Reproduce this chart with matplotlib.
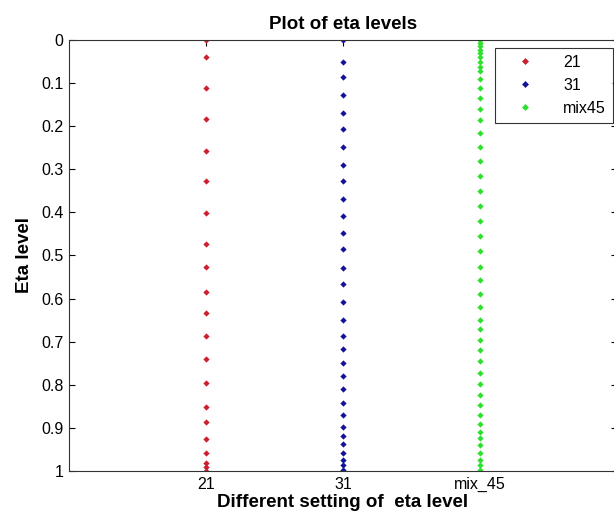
import numpy as np
import matplotlib.pyplot as plt

plt.rcParams['font.family'] = ['Liberation Sans', 'DejaVu Sans']

# eta values
eta_21 = [0, 0.039, 0.111, 0.184, 0.257, 0.327, 0.401, 0.474, 0.526, 0.584,
          0.634, 0.688, 0.741, 0.795, 0.851, 0.887, 0.925, 0.959, 0.981,
          0.990, 1.0]
eta_31 = [0, 0.050, 0.087, 0.128, 0.169, 0.207, 0.249, 0.290, 0.327, 0.369,
          0.408, 0.447, 0.485, 0.530, 0.566, 0.607, 0.650, 0.688, 0.718,
          0.749, 0.780, 0.810, 0.842, 0.870, 0.899, 0.919, 0.937, 0.958,
          0.974, 0.986, 0.998]
eta_mix45 = [0, 0.008, 0.015, 0.023, 0.031, 0.040, 0.050, 0.062, 0.073, 0.091,
             0.112, 0.135, 0.161, 0.186, 0.215, 0.248, 0.280, 0.315, 0.350,
             0.385, 0.420, 0.455, 0.489, 0.526, 0.558, 0.589, 0.619, 0.650,
             0.671, 0.696, 0.719, 0.746, 0.773, 0.798, 0.824, 0.847, 0.870,
             0.891, 0.909, 0.924, 0.940, 0.959, 0.974, 0.986, 0.998]

series = [("21", eta_21, "#cc1f2f"), ("31", eta_31, "#12129a"),
          ("mix45", eta_mix45, "#2ee02e")]
xlabels = ["21", "31", "mix_45"]

fig = plt.figure(figsize=(6.14, 5.25), dpi=100)
ax = fig.add_axes([0.1124, 0.1029, 0.8925, 0.821])

for i, (name, vals, col) in enumerate(series):
    ax.plot(np.full(len(vals), i + 1), vals, "D", color=col, markersize=3.2,
            markeredgewidth=0, linestyle="none", label=name)

ax.set_xlim(0, 4)
ax.set_ylim(1, 0)
ax.set_xticks([1, 2, 3])
ax.set_xticklabels(xlabels)
ax.set_yticks(np.round(np.arange(0, 1.01, 0.1), 1))
ax.set_yticklabels(["0"] + ["%.1f" % v for v in np.arange(0.1, 0.95, 0.1)] + ["1"])
ax.tick_params(direction="in", length=4, labelsize=11.5, top=True, right=True,
               pad=4)
for s in ax.spines.values():
    s.set_color("#333333")

ax.set_title("Plot of eta levels", fontsize=13.5, fontweight="bold", pad=8)
ax.set_xlabel("Different setting of  eta level", fontsize=13.5,
              fontweight="bold", labelpad=2)
ax.set_ylabel("Eta level", fontsize=13.5, fontweight="bold", labelpad=6)

leg = ax.legend(loc="upper left", bbox_to_anchor=(0.778, 0.982),
                fontsize=11.5, fancybox=False, edgecolor="black",
                borderaxespad=0, handletextpad=1.0, markerscale=1.1,
                borderpad=0.45, labelspacing=0.5, handlelength=2.8)
leg.get_frame().set_linewidth(0.8)

fig.savefig("out.png", dpi=100)
